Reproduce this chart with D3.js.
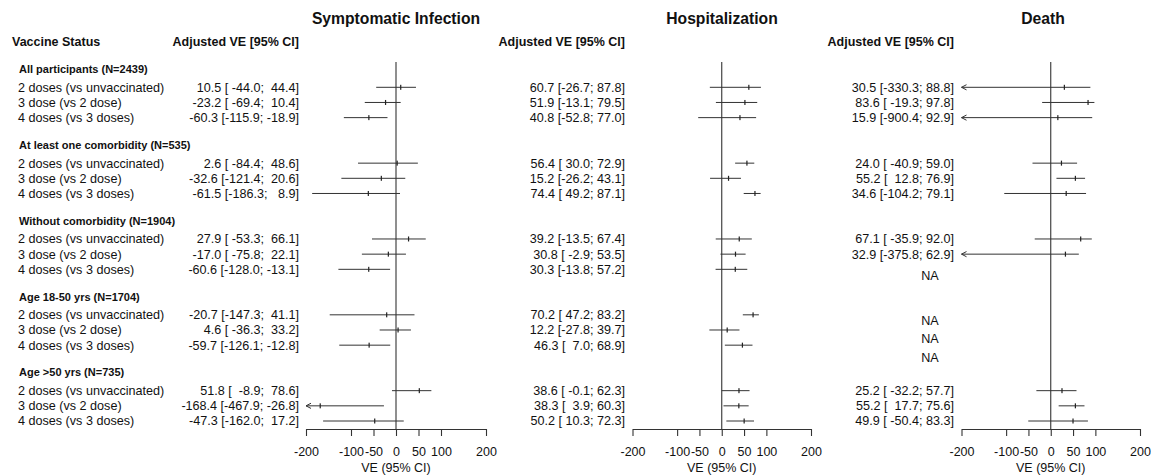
<!DOCTYPE html>
<html>
<head>
<meta charset="utf-8">
<script src="https://cdn.jsdelivr.net/npm/d3@7"></script>
<style>
  body { margin: 0; background: #fff; }
  svg { display: block; font-family: "Liberation Sans", Arial, sans-serif; }
  text { white-space: pre; }
</style>
</head>
<body>
<div id="chart"></div>
<script>

// ---- data ----
var groups = ["All participants (N=2439)", "At least one comorbidity (N=535)",
    "Without comorbidity (N=1904)", "Age 18-50 yrs (N=1704)", "Age >50 yrs (N=735)"];
var doses = ["2 doses (vs unvaccinated)", "3 dose (vs 2 dose)", "4 doses (vs 3 doses)"];
var outcomes = ["Symptomatic Infection", "Hospitalization", "Death"];
var ticks = [-200, -100, -50, 0, 50, 100, 200];

// one value per row, groups in order, 3 dose rows per group
var symEst = [10.5, -23.2, -60.3, 2.6, -32.6, -61.5, 27.9, -17.0, -60.6, -20.7, 4.6, -59.7, 51.8, -168.4, -47.3];
var symLo  = [-44.0, -69.4, -115.9, -84.4, -121.4, -186.3, -53.3, -75.8, -128.0, -147.3, -36.3, -126.1, -8.9, -467.9, -162.0];
var symHi  = [44.4, 10.4, -18.9, 48.6, 20.6, 8.9, 66.1, 22.1, -13.1, 41.1, 33.2, -12.8, 78.6, -26.8, 17.2];

var hospEst = [60.7, 51.9, 40.8, 56.4, 15.2, 74.4, 39.2, 30.8, 30.3, 70.2, 12.2, 46.3, 38.6, 38.3, 50.2];
var hospLo  = [-26.7, -13.1, -52.8, 30.0, -26.2, 49.2, -13.5, -2.9, -13.8, 47.2, -27.8, 7.0, -0.1, 3.9, 10.3];
var hospHi  = [87.8, 79.5, 77.0, 72.9, 43.1, 87.1, 67.4, 53.5, 57.2, 83.2, 39.7, 68.9, 62.3, 60.3, 72.3];

var deathEst = [30.5, 83.6, 15.9, 24.0, 55.2, 34.6, 67.1, 32.9, null, null, null, null, 25.2, 55.2, 49.9];
var deathLo  = [-330.3, -19.3, -900.4, -40.9, 12.8, -104.2, -35.9, -375.8, null, null, null, null, -32.2, 17.7, -50.4];
var deathHi  = [88.8, 97.8, 92.9, 59.0, 76.9, 79.1, 92.0, 62.9, null, null, null, null, 57.7, 75.6, 83.3];

var series = [
    {est: symEst, lo: symLo, hi: symHi},
    {est: hospEst, lo: hospLo, hi: hospHi},
    {est: deathEst, lo: deathLo, hi: deathHi}
];

// ---- layout ----
var width = 1151, height = 475;
var panels = [
    {x0: 306, x1: 486, textRight: 299, titleX: 396},
    {x0: 632.5, x1: 811, textRight: 625, titleX: 722},
    {x0: 961.5, x1: 1140, textRight: 954, titleX: 1043}
];
var axisY = 429, zeroTop = 62;
var fontRow = "12.6px", fontHead = "11px", fontCol = "12.5px";
var ink = "#111", lineCol = "#333";

// line index: group header at g*5, rows at g*5+1..3, column header at -2
var yLine = d3.scaleLinear().domain([1, 23]).range([87.3, 421]);

var svg = d3.select("#chart").append("svg")
    .attr("width", width)
    .attr("height", height);

// plain hyphen minus, like R output
var fmt = d => d.toFixed(1);
function pad(s, n) { return s.padStart(n, " "); }

svg.append("text")
    .attr("x", 12).attr("y", yLine(-2)).attr("dy", "0.35em")
    .style("font-size", fontCol).style("font-weight", "bold").attr("fill", ink)
    .text("Vaccine Status");

// group headers + dose labels
groups.forEach(function(gName, g) {
    svg.append("text")
        .attr("x", 19).attr("y", yLine(g * 5) - 3).attr("dy", "0.35em")
        .style("font-size", fontHead).style("font-weight", "bold").attr("fill", ink)
        .text(gName);
    doses.forEach(function(dName, r) {
        svg.append("text")
            .attr("x", 18).attr("y", yLine(g * 5 + 1 + r)).attr("dy", "0.35em")
            .style("font-size", fontRow).attr("fill", ink)
            .text(dName);
    });
});

series.forEach(function(s, p) {
    var pan = panels[p];
    var x = d3.scaleLinear().domain([-200, 200]).range([pan.x0, pan.x1]);
    var g = svg.append("g");

    // title + column header
    g.append("text")
        .attr("x", pan.titleX).attr("y", 19).attr("dy", "0.35em")
        .attr("text-anchor", "middle")
        .style("font-size", "15.7px").style("font-weight", "bold").attr("fill", ink)
        .text(outcomes[p]);
    g.append("text")
        .attr("x", pan.textRight).attr("y", yLine(-2)).attr("dy", "0.35em")
        .attr("text-anchor", "end")
        .style("font-size", fontCol).style("font-weight", "bold").attr("fill", ink)
        .text("Adjusted VE [95% CI]");

    // padding widths like R's formatC
    var loW = d3.max(s.lo, d => d == null ? 0 : fmt(d).length);
    var hiW = d3.max(s.hi, d => d == null ? 0 : fmt(d).length);

    var rows = s.est.map(function(e, i) {
        var grp = Math.floor(i / 3), r = i % 3;
        return {est: e, lo: s.lo[i], hi: s.hi[i], grp: grp, r: r, line: grp * 5 + 1 + r};
    });

    // NA nudges (consecutive NA rows within a group spread out)
    var naCount = {};
    rows.forEach(function(d) {
        if (d.est == null) {
            var k = naCount[d.grp] || 0;
            d.naY = yLine(d.line) + 6 + 3 * k;
            naCount[d.grp] = k + 1;
        }
    });

    // zero line
    g.append("line")
        .attr("x1", x(0)).attr("x2", x(0))
        .attr("y1", zeroTop).attr("y2", axisY)
        .attr("stroke", lineCol).attr("stroke-width", 1.1);

    // value text
    g.selectAll(".val").data(rows).enter()
        .append("text")
        .attr("class", "val")
        .attr("x", d => d.est == null ? pan.textRight - 24 : pan.textRight)
        .attr("y", d => d.est == null ? d.naY : yLine(d.line))
        .attr("dy", "0.35em")
        .attr("text-anchor", d => d.est == null ? "middle" : "end")
        .style("font-size", fontRow).attr("fill", ink)
        .text(d => d.est == null ? "NA"
            : fmt(d.est) + " [" + pad(fmt(d.lo), loW) + "; " + pad(fmt(d.hi), hiW) + "]");

    var drawn = rows.filter(d => d.est != null);

    // CI lines (clipped at axis limits)
    g.selectAll(".ci").data(drawn).enter()
        .append("line")
        .attr("x1", d => x(Math.max(d.lo, -200)))
        .attr("x2", d => x(Math.min(d.hi, 200)))
        .attr("y1", d => yLine(d.line)).attr("y2", d => yLine(d.line))
        .attr("stroke", lineCol).attr("stroke-width", 1);

    // arrows for truncated CIs
    g.selectAll(".arr").data(drawn.filter(d => d.lo < -200)).enter()
        .append("path")
        .attr("d", function(d) {
            var tx = x(-200), ty = yLine(d.line);
            return "M" + (tx + 5) + "," + (ty - 2.6) + "L" + tx + "," + ty + "L" + (tx + 5) + "," + (ty + 2.6);
        })
        .attr("fill", "none").attr("stroke", lineCol).attr("stroke-width", 1);

    // point estimates
    g.selectAll(".pt").data(drawn).enter()
        .append("rect")
        .attr("x", d => x(d.est) - 0.6)
        .attr("y", d => yLine(d.line) - 2.5)
        .attr("width", 1.2).attr("height", 5)
        .attr("fill", "#222");

    // axis
    var axis = d3.axisBottom(x).tickValues(ticks).tickFormat(d => String(d))
        .tickSize(7).tickSizeOuter(0).tickPadding(11);
    var ax = g.append("g")
        .attr("transform", "translate(0," + axisY + ")")
        .call(axis);
    ax.select(".domain").attr("stroke", lineCol).attr("stroke-width", 1.1);
    ax.selectAll(".tick line").attr("stroke", lineCol).attr("stroke-width", 1.1);
    ax.selectAll(".tick text")
        .style("font-size", "12.5px").attr("fill", ink)
        .style("font-family", "'Liberation Sans', Arial, sans-serif");

    g.append("text")
        .attr("x", x(0)).attr("y", 467.5).attr("dy", "0.35em")
        .attr("text-anchor", "middle")
        .style("font-size", "12.5px").attr("fill", ink)
        .text("VE (95% CI)");
});
</script>
</body>
</html>
